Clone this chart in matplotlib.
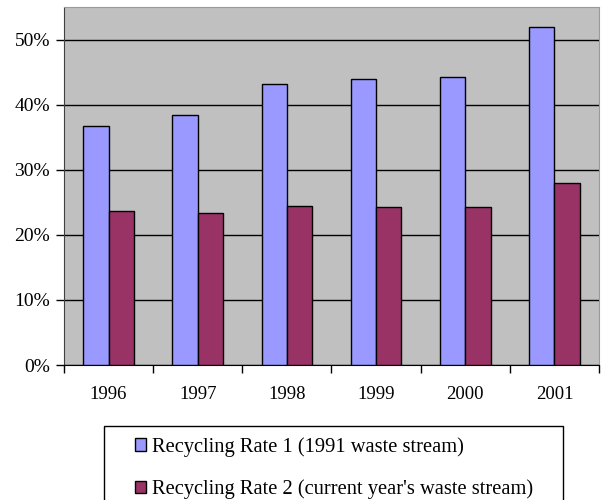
"""Recycling rates 1996-2001, Excel-style grouped bars."""

import matplotlib
matplotlib.use("Agg")
import matplotlib.pyplot as plt
import numpy as np
from matplotlib.patches import Rectangle
from matplotlib.ticker import FixedLocator, PercentFormatter

years = ["1996", "1997", "1998", "1999", "2000", "2001"]
rate_1991_stream = [36.7, 38.4, 43.1, 43.9, 44.3, 52.0]
rate_current_stream = [23.6, 23.4, 24.5, 24.2, 24.3, 28.0]
series_labels = [
    "Recycling Rate 1 (1991 waste stream)",
    "Recycling Rate 2 (current year's waste stream)",
]

colors = ["#9999FF", "#993366"]
plt.rcParams["font.family"] = ["Liberation Serif", "DejaVu Serif"]

fig = plt.figure(figsize=(6.06, 5.0), dpi=100, facecolor="white")
ax = fig.add_axes([64 / 606, 135 / 500, 535 / 606, 358 / 500])
ax.set_facecolor("#C0C0C0")

x = np.arange(len(years))
width = 0.284
bars1 = ax.bar(x - width, rate_1991_stream, width, align="edge", color=colors[0],
               edgecolor="black", linewidth=1.0, zorder=3, label=series_labels[0])
bars2 = ax.bar(x, rate_current_stream, width, align="edge", color=colors[1],
               edgecolor="black", linewidth=1.0, zorder=3, label=series_labels[1])

ax.set_xlim(-0.5, len(years) - 0.5)
ax.set_ylim(0, 55)
ax.set_yticks(np.arange(0, 51, 10))
ax.yaxis.set_major_formatter(PercentFormatter(decimals=0))
ax.yaxis.grid(True, color="black", linewidth=1.0, zorder=1)
ax.set_axisbelow(True)

# tick marks at the category boundaries, labels at the centres
ax.xaxis.set_major_locator(FixedLocator(np.arange(-0.5, len(years), 1.0)))
ax.xaxis.set_minor_locator(FixedLocator(x))
ax.set_xticklabels([])
ax.set_xticklabels(years, minor=True)
ax.tick_params(axis="x", which="major", direction="out", length=6, width=1, color="black")
ax.tick_params(axis="x", which="minor", length=0, pad=15, labelsize=13.5)
ax.tick_params(axis="y", direction="out", length=6, width=1, color="black", pad=4, labelsize=14)

ax.spines["left"].set_color("#404040")
ax.spines["bottom"].set_color("black")
for side in ("top", "right"):
    ax.spines[side].set_color("#9A9A9A")

# legend box below the plot, running off the bottom edge like the original
fig.add_artist(Rectangle((104 / 606, -0.05), 459 / 606, 1 - 426 / 500 + 0.05,
                         transform=fig.transFigure, fill=False, edgecolor="black",
                         linewidth=1.0))
fig.legend(handles=[bars1, bars2], labels=series_labels, loc="upper left",
           bbox_to_anchor=(135 / 606, 1 - 437 / 500), frameon=False, fontsize=14.8,
           handlelength=0.55, handleheight=0.55, handletextpad=0.3,
           labelspacing=1.1, borderaxespad=0, borderpad=0)

fig.savefig("out.png", dpi=100, facecolor=fig.get_facecolor())
plt.close(fig)
